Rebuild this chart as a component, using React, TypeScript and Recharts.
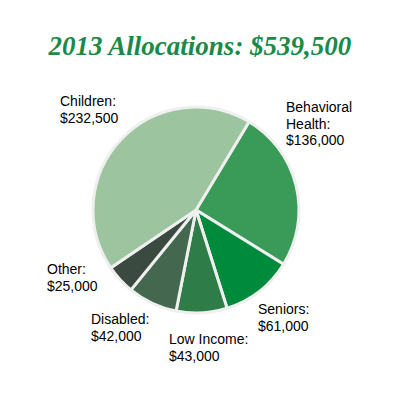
import { PieChart, Pie, Cell } from 'recharts'

const categories = ['Behavioral Health', 'Seniors', 'Low Income', 'Disabled', 'Other', 'Children']
const amounts = [136000, 61000, 43000, 42000, 25000, 232500]
const labelLines = [
  ['Behavioral', 'Health:', '$136,000'],
  ['Seniors:', '$61,000'],
  ['Low Income:', '$43,000'],
  ['Disabled:', '$42,000'],
  ['Other:', '$25,000'],
  ['Children:', '$232,500'],
]
const colors = ['#3a9a58', '#008a3c', '#2e7c47', '#43684f', '#3b4a41', '#9bc49f']

const data = categories.map((name, i) => ({ name, value: amounts[i] }))

// label text anchors, offset from pie centre (left x, first baseline y)
const labelOffsets = [
  [90, -98],
  [62, 104],
  [-27, 134],
  [-105, 114],
  [-149, 64],
  [-136, -104],
]

const renderLabel = (props: any) => {
  const { cx, cy, index } = props
  const [dx, dy] = labelOffsets[index]
  return (
    <text
      key={index}
      x={cx + dx}
      y={cy + dy}
      fontFamily="Liberation Sans, Arial, sans-serif"
      fontSize={14}
      fill="#000"
    >
      {labelLines[index].map((line, j) => (
        <tspan key={j} x={cx + dx} dy={j === 0 ? 0 : 16.7}>
          {line}
        </tspan>
      ))}
    </text>
  )
}

export default function App() {
  return (
    <div style={{ position: 'absolute', left: 0, top: 0, width: 400, height: 400, background: '#fff' }}>
      <div
        style={{
          position: 'absolute',
          left: 0,
          top: 30,
          width: 400,
          textAlign: 'center',
          fontFamily: 'Liberation Serif, Times New Roman, serif',
          fontStyle: 'italic',
          fontWeight: 'bold',
          fontSize: 27,
          color: '#1a8a45',
          lineHeight: '32px',
        }}
      >
        2013 Allocations: $539,500
      </div>
      <PieChart width={400} height={400}>
        <Pie
          data={data}
          dataKey="value"
          cx={191}
          cy={205}
          outerRadius={103}
          startAngle={59}
          endAngle={-301}
          stroke="#efefef"
          strokeWidth={3}
          label={renderLabel}
          labelLine={false}
          isAnimationActive={false}
        >
          {data.map((d, i) => (
            <Cell key={d.name} fill={colors[i]} />
          ))}
        </Pie>
      </PieChart>
    </div>
  )
}
